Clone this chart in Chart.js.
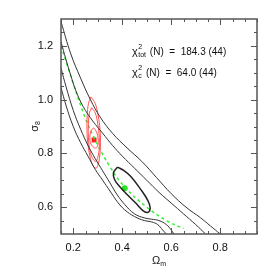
<!DOCTYPE html>
<html>
<head>
<meta charset="utf-8">
<script src="https://cdn.jsdelivr.net/npm/chart.js"></script>
<style>
  html, body { margin: 0; padding: 0; background: #fff; }
</style>
</head>
<body>
<canvas id="chart" width="274" height="274"></canvas>
<script>
// Axis ticks
const xMajor = [0.2, 0.4, 0.6, 0.8];
const yMajor = [0.6, 0.8, 1.0, 1.2];
const xMinor = [0.15, 0.25, 0.3, 0.35, 0.45, 0.5, 0.55, 0.65, 0.7, 0.75, 0.85, 0.9, 0.95];
const yMinor = [0.55, 0.65, 0.7, 0.75, 0.85, 0.9, 0.95, 1.05, 1.1, 1.15, 1.25];

// Black likelihood contours
const outerRightX = [0.15, 0.19, 0.23, 0.27, 0.31, 0.36, 0.42, 0.48, 0.54, 0.60, 0.66, 0.72, 0.76, 0.80];
const outerRightY = [1.29, 1.17, 1.08, 1.00, 0.935, 0.875, 0.82, 0.77, 0.71, 0.65, 0.60, 0.56, 0.53, 0.50];
const midRightX = [0.15, 0.17, 0.19, 0.21, 0.24, 0.28, 0.32, 0.36, 0.40, 0.45, 0.50, 0.55, 0.60, 0.65, 0.70, 0.74];
const midRightY = [1.215, 1.15, 1.09, 1.035, 0.975, 0.92, 0.875, 0.83, 0.79, 0.745, 0.70, 0.655, 0.615, 0.575, 0.535, 0.50];
const midLeftX = [0.15, 0.17, 0.20, 0.23, 0.26, 0.29, 0.32, 0.35, 0.38, 0.41, 0.45, 0.49, 0.52, 0.55, 0.58, 0.60, 0.61];
const midLeftY = [1.117, 1.05, 0.96, 0.89, 0.83, 0.78, 0.735, 0.69, 0.645, 0.61, 0.575, 0.56, 0.555, 0.55, 0.535, 0.515, 0.50];
const outerLeftX = [0.15, 0.17, 0.20, 0.23, 0.26, 0.29, 0.32, 0.35, 0.38, 0.41, 0.45, 0.49, 0.52, 0.545, 0.565, 0.58];
const outerLeftY = [1.045, 0.98, 0.90, 0.84, 0.79, 0.74, 0.70, 0.66, 0.62, 0.59, 0.565, 0.55, 0.545, 0.535, 0.515, 0.50];
const innerX = [0.380, 0.407, 0.435, 0.476, 0.503, 0.514, 0.503, 0.483, 0.455, 0.421, 0.391, 0.369, 0.364, 0.380];
const innerY = [0.749, 0.736, 0.714, 0.665, 0.627, 0.597, 0.580, 0.588, 0.615, 0.646, 0.675, 0.702, 0.727, 0.749];

// Red contours
const redOuterX = [0.272, 0.290, 0.302, 0.309, 0.311, 0.308, 0.300, 0.293, 0.280, 0.268, 0.259, 0.256, 0.257, 0.262, 0.272];
const redOuterY = [1.010, 0.985, 0.940, 0.890, 0.840, 0.790, 0.755, 0.745, 0.755, 0.790, 0.840, 0.890, 0.940, 0.985, 1.010];
const redMidX = [0.275, 0.290, 0.300, 0.306, 0.306, 0.300, 0.292, 0.280, 0.268, 0.262, 0.262, 0.266, 0.275];
const redMidY = [0.970, 0.950, 0.910, 0.860, 0.820, 0.785, 0.770, 0.780, 0.810, 0.860, 0.910, 0.950, 0.970];
const redInnerX = [0.283, 0.295, 0.302, 0.300, 0.292, 0.280, 0.270, 0.268, 0.273, 0.283];
const redInnerY = [0.895, 0.880, 0.850, 0.830, 0.820, 0.825, 0.840, 0.865, 0.885, 0.895];

// Degeneracy line and best fits
const greenLineX = [0.15, 0.20, 0.25, 0.29, 0.35, 0.41, 0.50, 0.58, 0.65];
const greenLineY = [1.20, 1.06, 0.93, 0.85, 0.75, 0.675, 0.60, 0.55, 0.52];
const bestGreen = { x: 0.41, y: 0.67 };
const bestRed = { x: 0.285, y: 0.85 };

const chiTot = "184.3";
const chiC = "64.0";
const nBins = "44";

const FONT = "'Liberation Sans', Arial, sans-serif";

function pts(xs, ys) {
    return xs.map((x, i) => ({ x: x, y: ys[i] }));
}

function line(xs, ys, color, width, dash) {
    return {
        data: pts(xs, ys),
        showLine: true,
        pointRadius: 0,
        borderColor: color,
        borderWidth: width,
        borderDash: dash || [],
        tension: 0.4,
        fill: false
    };
}

// Draws the box, inward ticks on all sides and the labels
const framePlugin = {
    id: 'frame',
    afterDraw(chart) {
        const ctx = chart.ctx;
        const a = chart.chartArea;
        const xs = chart.scales.x, ys = chart.scales.y;
        ctx.save();
        ctx.strokeStyle = '#555';
        ctx.lineWidth = 1.5;
        ctx.strokeRect(a.left, a.top, a.right - a.left, a.bottom - a.top);

        ctx.lineWidth = 1;
        ctx.beginPath();
        const tickX = (v, len) => {
            const px = Math.round(xs.getPixelForValue(v)) + 0.5;
            ctx.moveTo(px, a.bottom); ctx.lineTo(px, a.bottom - len);
            ctx.moveTo(px, a.top); ctx.lineTo(px, a.top + len);
        };
        const tickY = (v, len) => {
            const py = Math.round(ys.getPixelForValue(v)) + 0.5;
            ctx.moveTo(a.left, py); ctx.lineTo(a.left + len, py);
            ctx.moveTo(a.right, py); ctx.lineTo(a.right - len, py);
        };
        xMajor.forEach(v => tickX(v, 6));
        xMinor.forEach(v => tickX(v, 3));
        yMajor.forEach(v => tickY(v, 6));
        yMinor.forEach(v => tickY(v, 3));
        ctx.stroke();

        ctx.fillStyle = '#111';
        ctx.textBaseline = 'alphabetic';

        // chi-square labels
        const chiLine = (x, y, sub, rest) => {
            ctx.font = '11px ' + FONT;
            ctx.textAlign = 'left';
            ctx.fillText('\u03c7', x, y);
            let w = ctx.measureText('\u03c7').width;
            ctx.font = '7px ' + FONT;
            ctx.fillText('2', x + w + 0.5, y - 6);
            ctx.fillText(sub, x + w + 0.5, y + 2);
            const sw = Math.max(ctx.measureText('2').width, ctx.measureText(sub).width);
            ctx.font = '10px ' + FONT;
            ctx.fillText(rest, x + w + sw + 1.5, y);
        };
        chiLine(132, 55, 'tot', ' (N)  =  ' + chiTot + ' (' + nBins + ')');
        chiLine(132, 76, 'c', ' (N)  =  ' + chiC + ' (' + nBins + ')');

        // x axis title
        const cx = (a.left + a.right) / 2;
        ctx.font = '11px ' + FONT;
        const ow = ctx.measureText('\u03a9').width;
        ctx.font = '7px ' + FONT;
        const mw = ctx.measureText('m').width;
        const x0 = cx - (ow + mw) / 2;
        ctx.font = '11px ' + FONT;
        ctx.fillText('\u03a9', x0, 264);
        ctx.font = '7px ' + FONT;
        ctx.fillText('m', x0 + ow, 266);

        // y axis title
        ctx.save();
        ctx.translate(38, (a.top + a.bottom) / 2);
        ctx.rotate(-Math.PI / 2);
        ctx.font = '11px ' + FONT;
        const sgw = ctx.measureText('\u03c3').width;
        ctx.font = '7px ' + FONT;
        const ew = ctx.measureText('8').width;
        ctx.font = '11px ' + FONT;
        ctx.fillText('\u03c3', -(sgw + ew) / 2, 0);
        ctx.font = '7px ' + FONT;
        ctx.fillText('8', -(sgw + ew) / 2 + sgw, 2);
        ctx.restore();

        ctx.restore();
    }
};

new Chart(document.getElementById('chart').getContext('2d'), {
    type: 'scatter',
    data: {
        datasets: [
            line(outerRightX, outerRightY, '#333', 1),
            line(midRightX, midRightY, '#333', 1),
            line(midLeftX, midLeftY, '#333', 1),
            line(outerLeftX, outerLeftY, '#333', 1),
            line(innerX, innerY, '#222', 1.5),
            line(redOuterX, redOuterY, '#ff5050', 1),
            line(redMidX, redMidY, '#ff5050', 1),
            line(redInnerX, redInnerY, '#ff5050', 1),
            line(greenLineX, greenLineY, '#33ee33', 1.5, [3, 3]),
            {
                data: [bestRed],
                pointStyle: 'rect',
                pointRadius: 3.5,
                backgroundColor: '#ff2020',
                borderColor: '#ff2020',
                borderWidth: 0
            },
            {
                data: [bestGreen],
                pointStyle: 'circle',
                pointRadius: 3,
                backgroundColor: '#22dd22',
                borderColor: '#22dd22',
                borderWidth: 0
            }
        ]
    },
    options: {
        responsive: false,
        animation: false,
        layout: { padding: { top: 19, right: 17, left: 0, bottom: 0 } },
        plugins: { legend: { display: false }, tooltip: { enabled: false } },
        scales: {
            x: {
                type: 'linear', min: 0.15, max: 0.95,
                afterBuildTicks: s => { s.ticks = xMajor.map(v => ({ value: v })); },
                afterFit: s => { s.height = 40; },
                grid: { display: false, drawTicks: false },
                border: { display: false },
                ticks: { padding: 7, color: '#111', maxRotation: 0,
                         font: { family: FONT, size: 11 },
                         callback: v => v.toFixed(1) }
            },
            y: {
                type: 'linear', min: 0.5, max: 1.3,
                afterBuildTicks: s => { s.ticks = yMajor.map(v => ({ value: v })); },
                afterFit: s => { s.width = 61; },
                grid: { display: false, drawTicks: false },
                border: { display: false },
                ticks: { padding: 8, color: '#111',
                         font: { family: FONT, size: 11 },
                         callback: v => v.toFixed(1) }
            }
        }
    },
    plugins: [framePlugin]
});
</script>
</body>
</html>
